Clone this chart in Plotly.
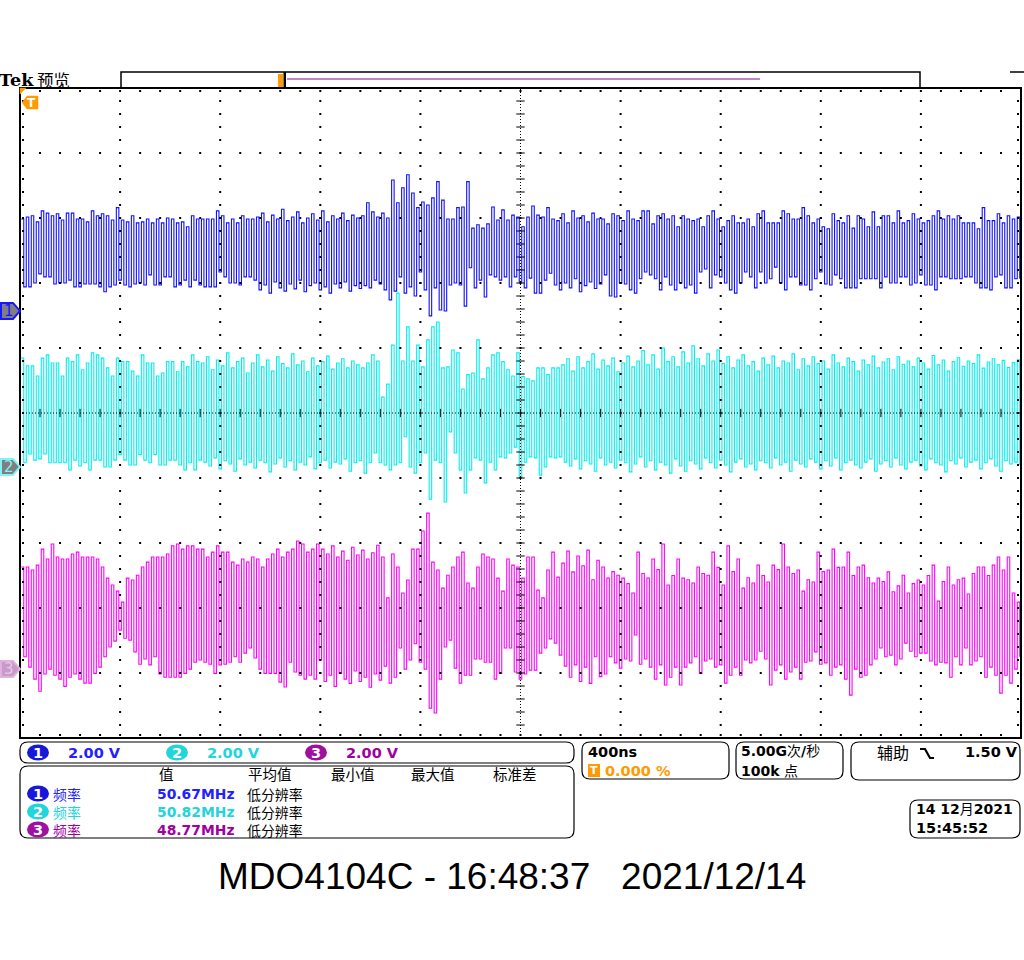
import plotly.graph_objects as go

# ---------------- waveform data: peak values per cycle (volts) ----------------
CH1_HI = [2.83,2.89,2.93,2.74,3.08,3.01,2.93,2.99,2.80,3.01,
          3.01,2.83,2.83,2.74,3.08,2.93,2.99,2.93,2.80,3.18,
          2.80,2.74,2.93,2.71,2.74,2.83,2.71,2.83,2.71,2.86,
          2.83,2.71,2.74,2.59,2.93,2.83,2.83,2.83,2.83,3.08,
          2.93,2.71,2.83,2.71,2.93,2.83,2.83,
          2.89,3.01,2.74,2.95,2.83,3.13,2.78,2.89,3.05,2.71,
          2.86,2.99,2.80,3.08,2.74,2.93,2.83,3.01,2.78,2.95,2.86,
          2.93,3.33,3.05,2.89,3.01,2.86,4.03,3.33,3.79,4.19,
          3.63,3.18,3.35,3.26,3.48,3.98,3.41,2.83,2.83,3.18,
          3.20,3.98,2.55,2.65,2.55,2.68,3.20,2.80,3.11,2.80,2.95,2.89,
          2.59,2.89,3.23,2.95,2.89,3.18,2.83,2.78,2.99,2.71,3.08,2.86,2.93,2.74,3.01,2.83,
          2.83,2.68,2.99,2.93,2.78,3.08,2.83,2.78,3.08,3.08,
          2.68,2.93,2.99,2.83,2.93,2.59,2.93,2.83,2.78,2.83,
          2.59,2.93,3.08,2.83,2.59,2.78,2.93,2.71,2.71,2.83,
          2.59,2.99,3.08,2.71,2.71,2.71,3.08,2.99,2.83,2.83,
          3.18,2.93,2.71,2.83,2.59,2.53,2.99,2.78,2.71,2.93,
          2.55,2.93,2.83,2.59,3.05,2.59,2.93,2.93,2.71,3.08,
          2.71,2.78,2.99,2.83,2.71,2.78,2.93,3.08,2.83,2.93,
          2.83,2.93,2.71,2.71,2.71,2.53,3.18,2.78,2.78,2.99,
          2.71,2.93,2.83,2.89]
CH1_LO = [0.74,0.74,0.86,1.14,1.05,1.05,0.83,0.86,0.86,0.95,
          0.74,0.74,0.83,0.83,0.83,0.74,0.59,0.74,0.80,0.95,
          0.80,0.74,0.83,0.86,0.80,1.11,0.80,0.80,1.05,1.05,
          0.74,0.80,0.95,0.74,0.95,0.80,0.74,0.74,0.74,1.20,
          1.05,0.86,0.86,0.80,1.05,1.05,0.95,
          0.65,0.80,0.55,0.89,0.71,0.61,0.83,0.68,0.95,0.59,
          0.78,0.86,0.65,0.74,0.55,0.83,0.71,0.89,0.61,0.78,0.69,
          0.78,0.71,0.95,0.83,0.65,0.34,0.61,1.05,0.55,0.74,
          0.46,1.20,0.65,-0.15,0.71,0.03,0.00,0.80,0.86,0.80,
          0.15,1.33,0.71,0.95,0.43,1.11,1.05,0.95,1.05,0.74,1.05,0.89,
          0.71,1.01,0.55,0.55,0.95,1.16,0.80,0.65,0.86,0.71,0.99,0.59,0.78,0.89,0.69,0.83,
          1.11,0.46,0.43,0.86,0.83,0.65,0.55,0.99,1.20,1.11,
          0.99,0.65,1.05,0.80,0.65,0.86,0.71,0.80,0.55,1.20,
          1.29,0.71,1.11,1.05,0.86,0.65,0.55,0.86,1.20,1.05,
          0.71,1.20,0.86,0.99,1.35,0.86,0.65,1.05,1.05,0.80,
          0.80,0.65,0.99,1.20,0.83,0.80,1.11,0.99,0.71,0.71,
          0.71,0.99,0.99,0.99,0.99,0.71,1.05,0.86,0.86,1.05,
          1.05,0.80,0.86,1.11,0.80,0.80,0.65,1.05,1.05,0.99,
          0.99,0.99,1.05,1.05,0.86,0.71,0.71,0.65,1.05,1.11,
          0.71,0.71,0.99,0.99]

CH2_HI = [3.35,3.11,3.11,2.80,3.35,3.45,3.20,3.20,2.80,3.35,
          3.24,3.45,2.99,3.20,3.51,3.45,3.35,3.05,2.80,3.35,
          3.24,3.24,2.95,2.80,3.45,3.20,3.20,2.80,2.89,3.24,
          3.24,2.93,3.24,3.08,3.45,3.24,
          3.20,3.39,2.99,3.29,3.11,3.51,3.05,3.24,3.35,2.89,
          3.20,3.45,3.08,3.29,2.95,3.39,3.18,3.05,3.48,3.14,
          3.26,2.93,3.35,3.11,3.24,3.41,3.01,3.20,3.33,3.05,
          3.26,3.14,
          3.05,3.20,3.45,3.26,2.15,2.55,3.75,5.35,3.26,4.31,
          3.26,3.75,3.08,3.91,4.31,4.46,3.05,3.08,3.60,3.51,
          2.40,2.84,2.89,3.91,2.71,3.05,3.45,3.51,3.24,2.99,
          2.80,3.51,2.78,2.71,2.65,3.05,3.05,2.84,3.05,3.05,
          3.14,3.33,2.95,3.39,3.05,3.24,3.48,3.01,3.29,3.11,
          3.35,2.93,3.20,3.41,3.08,3.26,3.58,3.14,3.45,3.01,
          3.66,3.24,3.39,3.08,3.54,3.20,3.73,3.33,3.11,3.48,
          3.26,3.60,3.18,3.39,3.05,3.29,3.45,3.11,3.24,2.95,
          3.35,3.14,3.41,3.05,3.26,3.20,3.48,2.99,3.33,3.11,
          3.39,3.18,3.26,3.01,3.45,3.20,3.08,3.35,3.24,2.95,
          3.29,3.14,3.41,3.05,3.23,3.33,2.99,3.39,3.16,3.26,
          3.08,3.35,3.20,3.01,3.43,3.14,3.29,2.95,3.24,3.36,
          3.10,3.26,3.18,3.45,3.04,3.23,3.33,3.14,3.28,3.06,
          3.21,3.30]
CH2_LO = [0.13,0.40,0.21,0.25,0.40,0.13,0.13,0.13,0.13,-0.09,
          0.21,0.03,0.13,-0.09,0.21,0.21,0.00,0.00,0.21,0.38,
          0.21,0.06,0.06,0.38,0.21,0.13,0.38,0.06,0.06,0.21,
          0.21,0.06,-0.09,0.13,-0.09,0.21,
          0.15,0.03,0.28,-0.06,0.19,0.09,-0.13,0.25,0.06,0.15,
          -0.03,0.21,0.13,-0.15,0.09,0.28,0.00,0.19,-0.09,0.15,
          0.06,0.31,-0.06,0.13,0.21,-0.03,0.15,0.09,0.25,-0.13,
          0.13,0.19,
          -0.19,0.13,0.43,0.13,0.06,-0.09,0.06,0.13,0.93,0.00,
          -0.19,0.13,0.43,-0.99,0.21,0.13,-1.08,1.08,0.43,-0.09,
          -0.80,-0.09,0.28,0.21,-0.49,0.15,-0.09,0.31,0.28,0.43,
          0.61,-0.34,0.15,0.31,0.28,-0.25,0.00,0.31,0.28,0.31,
          0.15,0.03,0.25,-0.06,0.19,0.09,-0.13,0.28,0.06,0.15,
          -0.03,0.21,0.13,-0.15,0.09,0.31,0.00,0.19,-0.09,0.15,
          0.06,-0.19,0.25,0.03,-0.13,0.19,0.09,-0.06,0.28,0.13,
          -0.03,0.21,0.06,-0.15,0.15,0.25,0.00,0.09,-0.09,0.19,
          0.13,-0.03,0.28,0.06,0.15,-0.13,0.21,0.09,0.00,0.25,
          0.15,-0.06,0.19,0.03,0.28,-0.09,0.13,0.21,0.06,-0.03,
          0.15,0.25,-0.13,0.09,0.19,0.00,0.28,0.06,-0.06,0.15,
          0.21,0.03,-0.09,0.25,0.13,0.06,-0.15,0.19,0.09,0.28,
          0.00,0.15,0.21,-0.06,0.13,0.25,0.03,-0.13,0.19,0.09,
          0.15,0.06]

CH3_HI = [3.14,3.14,3.05,3.20,3.69,3.39,3.85,3.45,3.39,3.39,
          3.54,3.60,3.45,3.45,3.45,3.39,3.14,2.80,2.59,2.40,
          2.06,2.80,2.74,2.89,3.14,3.29,3.45,3.45,3.45,3.54,
          3.79,3.85,3.69,3.79,3.79,3.69,3.69,3.45,3.60,3.79,
          3.60,3.60,3.29,3.20,3.39,3.29,3.45,3.39,3.14,3.39,
          3.54,3.69,3.45,3.60,3.69,3.94,3.85,3.60,3.69,3.85,
          3.69,3.54,3.79,3.45,3.63,3.35,3.75,3.51,3.66,3.39,3.58,3.81,
          3.45,2.19,3.54,3.14,2.34,2.74,3.69,3.69,4.25,4.80,
          3.29,3.05,2.49,2.89,3.14,3.45,3.60,2.65,2.49,3.14,
          3.54,3.45,3.39,2.80,2.40,3.39,3.20,3.14,2.80,3.45,
          3.45,2.43,2.19,3.05,3.60,2.83,3.26,3.63,2.99,3.48,
          3.18,3.66,2.75,3.35,
          3.14,2.80,3.00,2.89,2.80,2.63,2.34,3.60,2.94,2.80,3.39,3.06,
          3.85,2.59,2.88,3.39,2.80,2.75,2.65,3.14,2.94,2.89,3.60,3.13,
          2.59,3.79,3.00,3.39,2.49,2.81,2.65,3.20,2.88,2.68,3.20,3.06,
          3.85,3.14,2.94,3.05,2.40,2.75,2.68,3.60,3.00,3.05,3.69,3.13,
          3.14,3.60,2.88,3.14,3.20,2.81,2.65,2.80,2.69,2.99,2.38,2.56,
          2.89,2.34,2.63,2.74,2.59,2.88,3.20,2.09,2.69,3.14,2.59,2.75,
          2.80,2.31,2.94,3.14,3.14,2.88,
          3.20,3.45,3.05,3.45,2.34,2.06]
CH3_LO = [0.38,0.06,-0.31,-0.68,-0.15,0.00,-0.19,-0.31,-0.53,-0.25,
          -0.15,-0.31,-0.43,-0.43,-0.13,0.06,0.38,0.68,0.86,1.20,
          0.95,0.89,0.53,0.15,0.31,0.13,0.38,-0.15,-0.25,-0.25,
          -0.25,-0.25,-0.13,0.00,0.21,0.28,0.21,0.15,-0.13,0.13,
          0.15,0.21,0.38,0.21,0.49,0.65,0.34,0.00,-0.13,-0.13,
          -0.13,-0.40,-0.55,0.21,-0.09,-0.19,-0.31,-0.19,-0.31,0.28,
          -0.38,-0.19,-0.53,-0.13,-0.31,-0.44,-0.06,-0.38,-0.25,-0.56,-0.15,-0.34,
          0.09,-0.43,-0.25,0.65,0.00,0.28,0.78,0.21,0.00,-1.20,
          -1.35,-0.31,0.68,0.89,0.03,-0.43,-0.19,-0.19,0.31,0.31,
          0.21,0.21,-0.31,-0.13,0.65,0.65,-0.09,-0.31,-0.15,-0.03,
          -0.03,0.49,0.65,0.93,0.80,0.43,0.09,-0.25,0.13,-0.38,
          0.06,-0.44,0.38,-0.23,
          -0.15,0.38,0.19,0.03,0.31,0.25,1.05,0.15,0.31,0.06,-0.31,0.13,
          -0.49,-0.25,0.06,-0.49,0.06,0.19,0.38,-0.13,0.25,0.31,0.06,0.13,
          -0.43,-0.19,0.06,-0.19,0.28,0.19,0.28,0.55,0.31,-0.49,-0.03,0.13,
          -0.31,-0.09,0.06,-0.31,0.21,0.25,0.53,0.15,0.19,-0.19,0.06,0.13,
          -0.31,-0.80,0.00,-0.25,-0.19,0.13,0.31,0.65,0.38,0.43,0.13,0.31,
          0.80,0.55,0.38,0.49,0.49,0.25,0.13,0.21,0.19,-0.25,0.38,0.13,
          0.65,0.13,0.25,0.38,-0.25,0.06,
          -0.19,-0.74,-0.19,-0.43,0.00,0.38]

# ---------------- labels ----------------
CH_NAMES = ["1", "2", "3"]
CH_SCALES = ["2.00 V", "2.00 V", "2.00 V"]
MEAS_HEADERS = ["值", "平均值", "最小值", "最大值", "标准差"]
MEAS_NAME = "频率"
MEAS_VALUES = ["50.67MHz", "50.82MHz", "48.77MHz"]
MEAS_NOTE = "低分辨率"
TIMEBASE = "400ns"
TRIG_POS = "0.000 %"
SAMPLE_RATE = "<b>5.00G</b>次<b>/</b>秒"
RECORD_LEN = "<b>100k</b> 点"
TRIG_SRC = "辅助"
TRIG_LEVEL = "1.50 V"
DATE_TXT = "<b>14 12</b>月<b>2021</b>"
TIME_TXT = "15:45:52"
TITLE = "MDO4104C - 16:48:37\u00a0\u00a0\u00a02021/12/14"

# ---------------- display settings ----------------
VDIV = 2.0            # volts per division
TIME_SPAN = 4.0       # us (10 div x 400 ns)
CH_POS = [1.57, -0.83, -3.94]   # ground marker position, divisions
TRACE_COL = ["#1010ff", "#00f0f0", "#ff00ff"]
TEXT_COL = ["#2222ff", "#22d4dc", "#a000a0"]
PILL_COL = ["#1818d8", "#22d4dc", "#a010a0"]
ORANGE = "#ff9a00"

W, H = 1024, 960
PL, PR, PT, PB = 20, 1021, 88, 738


def px(x):
    return (x - PL) / (PR - PL)


def py(y):
    return (PB - y) / (PB - PT)


def div_to_pix(d):
    return PT + (5 - d) * (PB - PT) / 10.0


fig = go.Figure()


def wave(hi, lo, pos):
    n = min(len(hi), len(lo))
    dt = TIME_SPAN / n
    xs, ys = [], []
    for i in range(n):
        xs += [(i + 0.25) * dt, (i + 0.75) * dt]
        ys += [hi[i] / VDIV + pos, lo[i] / VDIV + pos]
    return xs, ys


for hi, lo, pos, col in [(CH3_HI, CH3_LO, CH_POS[2], TRACE_COL[2]),
                         (CH2_HI, CH2_LO, CH_POS[1], TRACE_COL[1]),
                         (CH1_HI, CH1_LO, CH_POS[0], TRACE_COL[0])]:
    xs, ys = wave(hi, lo, pos)
    fig.add_trace(go.Scatter(x=xs, y=ys, mode="lines", line=dict(color=col, width=1.1, shape="hv"),
                             hoverinfo="skip"))

# ---------------- graticule ----------------
xstep = TIME_SPAN / 10.0
gx, gy = [], []
for k in range(11):
    if k == 5:
        continue
    for j in range(51):
        gx.append(k * xstep)
        gy.append(-5 + j * 0.2)
        gx.append(j * xstep / 5)
        gy.append(-5 + k)
ex = 3.0 / (PR - PL) * TIME_SPAN
ey = 3.0 / (PB - PT) * 10
for j in range(51):
    gx += [j * xstep / 5, j * xstep / 5]
    gy += [5 - ey, -5 + ey]
    gx += [ex, TIME_SPAN - ex]
    gy += [-5 + j * 0.2, -5 + j * 0.2]
fig.add_trace(go.Scatter(x=gx, y=gy, mode="markers", hoverinfo="skip",
                         marker=dict(symbol="square", size=2, color="black", line=dict(width=0))))
# center cross ticks
tx = [TIME_SPAN / 2] * 51
ty = [-5 + j * 0.2 for j in range(51)]
fig.add_trace(go.Scatter(x=tx, y=ty, mode="markers", hoverinfo="skip",
                         marker=dict(symbol="line-ew", size=6, line=dict(width=1, color="black"))))
fig.add_trace(go.Scatter(x=[j * xstep / 5 for j in range(51)], y=[0] * 51, mode="markers", hoverinfo="skip",
                         marker=dict(symbol="line-ns", size=6, line=dict(width=1, color="black"))))

shapes = []
shapes.append(dict(type="line", xref="x", yref="y", x0=TIME_SPAN / 2, x1=TIME_SPAN / 2, y0=-5, y1=5,
                   line=dict(color="black", width=1, dash="1px,2px")))
shapes.append(dict(type="line", xref="x", yref="y", x0=0, x1=TIME_SPAN, y0=0, y1=0,
                   line=dict(color="black", width=1, dash="1px,2px")))
shapes.append(dict(type="rect", xref="paper", yref="paper", x0=0, x1=1, y0=0, y1=1,
                   line=dict(color="black", width=2)))


def rrect(x0, y0, x1, y1, r=8, color="black", width=1.2):
    p = (f"M {px(x0 + r)},{py(y0)} L {px(x1 - r)},{py(y0)} Q {px(x1)},{py(y0)} {px(x1)},{py(y0 + r)} "
         f"L {px(x1)},{py(y1 - r)} Q {px(x1)},{py(y1)} {px(x1 - r)},{py(y1)} "
         f"L {px(x0 + r)},{py(y1)} Q {px(x0)},{py(y1)} {px(x0)},{py(y1 - r)} "
         f"L {px(x0)},{py(y0 + r)} Q {px(x0)},{py(y0)} {px(x0 + r)},{py(y0)} Z")
    shapes.append(dict(type="path", xref="paper", yref="paper", path=p, line=dict(color=color, width=width)))


def poly(pts, fill, line_col, width=1.5):
    p = "M " + " L ".join(f"{px(a)},{py(b)}" for a, b in pts) + " Z"
    shapes.append(dict(type="path", xref="paper", yref="paper", path=p, fillcolor=fill,
                       line=dict(color=line_col, width=width)))


def pline(x0, y0, x1, y1, col, w=1.5):
    shapes.append(dict(type="line", xref="paper", yref="paper", x0=px(x0), x1=px(x1), y0=py(y0), y1=py(y1),
                       line=dict(color=col, width=w)))


def box(x0, y0, x1, y1, fill, col=None, w=0):
    shapes.append(dict(type="rect", xref="paper", yref="paper", x0=px(x0), x1=px(x1), y0=py(y0), y1=py(y1),
                       fillcolor=fill, line=dict(color=col or fill, width=w)))


def pill(cx, cy, col, w=22, h=16):
    shapes.append(dict(type="circle", xref="paper", yref="paper", x0=px(cx - w / 2), x1=px(cx + w / 2),
                       y0=py(cy + h / 2), y1=py(cy - h / 2), fillcolor=col, line=dict(color=col, width=0)))


ann = []
SANS = "DejaVu Sans"
CJK = "Noto Sans CJK SC"


def text(x, y, s, color="black", size=14.5, family=SANS, xa="left", ya="middle", align="left"):
    ann.append(dict(x=px(x), y=py(y), xref="paper", yref="paper", text=s, showarrow=False,
                    xanchor=xa, yanchor=ya, borderpad=0, align=align,
                    font=dict(color=color, size=size, family=family)))


# top preview bar
text(-2, 80, "<b>Tek</b>", size=17.5, family="DejaVu Serif")
text(36, 80, "预览", size=16.5, family=CJK)
shapes.append(dict(type="rect", xref="paper", yref="paper", x0=px(121), x1=px(920), y0=py(88), y1=py(72),
                   line=dict(color="black", width=1.5)))
pline(287, 79, 760, 79, "#8a0a8a", 1.2)
box(278, 74, 283, 87, ORANGE)
box(283.5, 72, 286, 88, "black")
pline(1010, 72, 1024, 72, "black", 1.5)

# trigger marker
poly([(20, 88), (26, 88), (20, 94)], ORANGE, ORANGE, 0.5)
poly([(22, 102.5), (27, 96), (38, 96), (38, 109), (27, 109)], ORANGE, ORANGE, 0.5)
text(31, 102.5, "<b>T</b>", color="white", size=12, xa="center")

# channel ground markers
mk_fill = ["#7f7f7f", "#7f7f7f", "#c99ac9"]
mk_line = ["#1818ff", "#80f4f4", "#e0b0e0"]
mk_txt = ["#1818ff", "#80f4f4", "#e8c8e8"]
for i in range(3):
    yc = div_to_pix(CH_POS[i])
    poly([(1, yc - 8), (13, yc - 8), (20, yc), (13, yc + 8), (1, yc + 8)], mk_fill[i], mk_line[i], 2)
    text(9, yc, CH_NAMES[i], color=mk_txt[i], size=15, xa="center")

# bottom panels
rrect(20, 742, 574, 763)
rrect(20, 766, 574, 838)
rrect(582, 742, 729, 779)
rrect(736, 742, 843, 779)
rrect(851, 742, 1020, 780)
rrect(910, 800, 1020, 838)

# channel scale row
for i, (cx, tx0) in enumerate([(38, 67), (177, 206), (316, 345)]):
    pill(cx, 752.5, PILL_COL[i])
    text(cx, 752.5, "<b>%s</b>" % CH_NAMES[i], color="white", size=14.5, xa="center")
    text(tx0, 752.5, "<b>%s</b>" % CH_SCALES[i], color=TEXT_COL[i])

# measurement table
for hx, hd in zip([158, 247, 330, 410, 492], MEAS_HEADERS):
    text(hx, 773.5, hd, size=14.5, family=CJK)
ROWS_Y = [793.5, 811.5, 829.5]
for i, yr in enumerate(ROWS_Y):
    pill(38, yr, PILL_COL[i])
    text(38, yr, "<b>%s</b>" % CH_NAMES[i], color="white", size=14.5, xa="center")
# name and note columns as single multi-line blocks (line pitch = 1.3 x font size)
names = "<br>".join("<span style='color:%s'>%s</span>" % (TEXT_COL[i], MEAS_NAME) for i in range(3))
text(52, ROWS_Y[1] + 0.5, names, size=13.9, family=CJK)
values = "<br>".join("<span style='color:%s'><b>%s</b></span>" % (TEXT_COL[i], MEAS_VALUES[i]) for i in range(3))
text(156, ROWS_Y[1] + 0.5, values, size=13.9, family=SANS)
notes = "<br>".join([MEAS_NOTE] * 3)
text(246, ROWS_Y[1] + 0.5, notes, size=13.9, family=CJK)

# timebase
text(587, 752, "<b>%s</b>" % TIMEBASE, size=14.5)
box(588, 764, 600, 777, ORANGE)
text(594, 770.5, "<b>T</b>", color="white", size=11, xa="center")
text(604, 770.5, "<b>%s</b>" % TRIG_POS, color=ORANGE, size=14.5)

# sample rate
text(740, 751, SAMPLE_RATE, size=14, family=SANS + ", " + CJK)
text(740, 770.5, RECORD_LEN, size=14, family=SANS + ", " + CJK)

# trigger
text(876, 752, TRIG_SRC, size=16, family=CJK)
shapes.append(dict(type="path", xref="paper", yref="paper",
                   path=f"M {px(920)},{py(749)} L {px(925)},{py(749)} L {px(930)},{py(758)} L {px(934)},{py(758)}",
                   line=dict(color="black", width=2.2)))
text(964, 752, "<b>%s</b>" % TRIG_LEVEL, size=14.5)

# date
text(915, 809, DATE_TXT, size=14, family=SANS + ", " + CJK)
text(915, 828, "<b>%s</b>" % TIME_TXT, size=14.5)

# title
text(511.5, 876, TITLE, size=37, family="Liberation Sans", xa="center")

fig.update_layout(
    width=W, height=H, margin=dict(l=PL, r=W - PR, t=PT, b=H - PB, pad=0),
    paper_bgcolor="white", plot_bgcolor="white", showlegend=False,
    xaxis=dict(range=[0, TIME_SPAN], showgrid=False, zeroline=False, showticklabels=False, ticks="",
               showline=False, fixedrange=True),
    yaxis=dict(range=[-5, 5], showgrid=False, zeroline=False, showticklabels=False, ticks="",
               showline=False, fixedrange=True),
    shapes=shapes, annotations=ann,
)
fig.write_html("out.html")
